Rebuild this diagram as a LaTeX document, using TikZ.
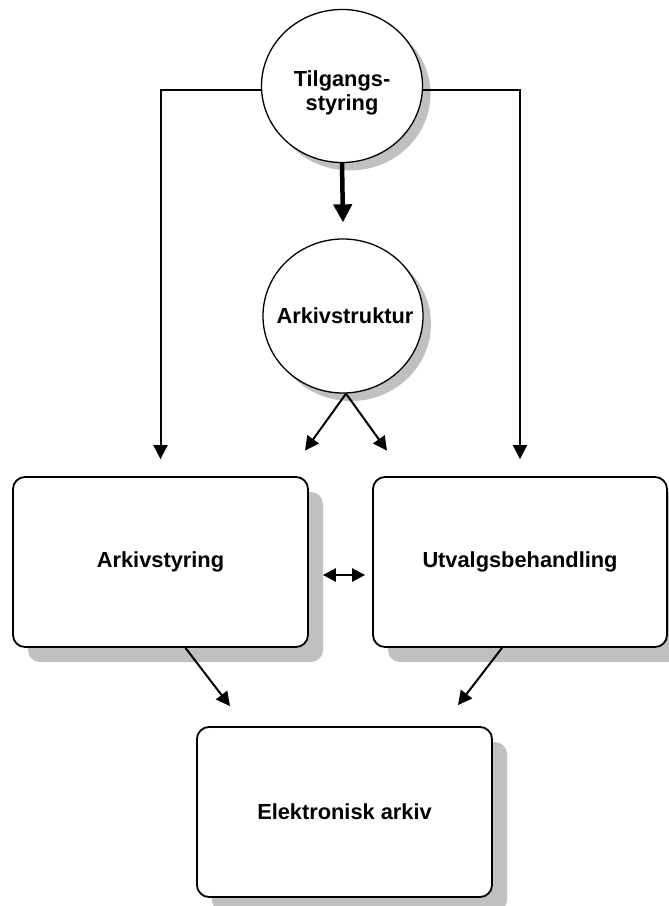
\documentclass[tikz,border=0pt]{standalone}
\usepackage{fontspec}
\setmainfont{Liberation Sans}
\usetikzlibrary{shapes.geometric,shadows,arrows.meta,calc}
\definecolor{shadowgray}{HTML}{C0C0C0}

\begin{document}
\begin{tikzpicture}[x=1bp,y=-1bp,
  every node/.style={font=\bfseries\fontsize{21.8bp}{24.5bp}\selectfont},
  circ/.style={ellipse, draw, line width=1.3bp, fill=white, inner sep=0pt,
    minimum width=161bp, minimum height=153bp,
    drop shadow={shadow xshift=8bp, shadow yshift=-8bp, fill=shadowgray, opacity=1}},
  box/.style={rectangle, rounded corners=12bp, draw, line width=1.8bp, fill=white,
    minimum width=295bp, minimum height=170bp,
    drop shadow={shadow xshift=15bp, shadow yshift=-15bp, fill=shadowgray, opacity=1}},
  lbl/.style={align=center, inner sep=0pt},
  link/.style={line width=2bp, -{Triangle[length=14bp,width=14bp]}},
  biglink/.style={line width=4.5bp, -{Triangle[length=18bp,width=18bp]}},
  twoway/.style={line width=2.5bp, {Triangle[length=13bp,width=13bp]}-{Triangle[length=13bp,width=13bp]}}
]
\useasboundingbox (0,0) rectangle (669,906);

% nodes
\node[circ] (tilg) at (342,86) {};
\node[lbl] (tilgtxt) at ([yshift=-7bp]tilg.center) {Tilgangs-\\styring};
\node[circ, minimum width=160bp, minimum height=154bp] (struk) at (343,316) {};
\node[lbl] (struktxt) at ([xshift=2bp]struk.center) {Arkivstruktur};
\node[box] (arkst) at (160.5,562) {Arkivstyring};
\node[box, minimum width=294bp] (utv) at (520,562) {Utvalgsbehandling};
\node[box] (elek) at (344.5,812) {Elektronisk arkiv};

% connectors
\draw[link] ([yshift=-4bp]tilg.west) -| ([yshift=17bp]arkst.north);
\draw[link] ([yshift=-4bp]tilg.east) -| ([yshift=17bp]utv.north);
\draw[biglink] (tilg.south) -- ([yshift=16bp]struk.north);
\draw[link] ([xshift=3bp]struk.south) -- ($(struk.south)+(-38,57)$);
\draw[link] ([xshift=3bp]struk.south) -- ($(struk.south)+(44,57)$);
\draw[twoway] ([shift={(14,13)}]arkst.east) -- ([shift={(-7,13)}]utv.west);
\draw[link] ([xshift=25bp]arkst.south) -- ([shift={(-114.5,-20)}]elek.north);
\draw[link] ([xshift=-18bp]utv.south) -- ([shift={(113.5,-21)}]elek.north);
\end{tikzpicture}
\end{document}
